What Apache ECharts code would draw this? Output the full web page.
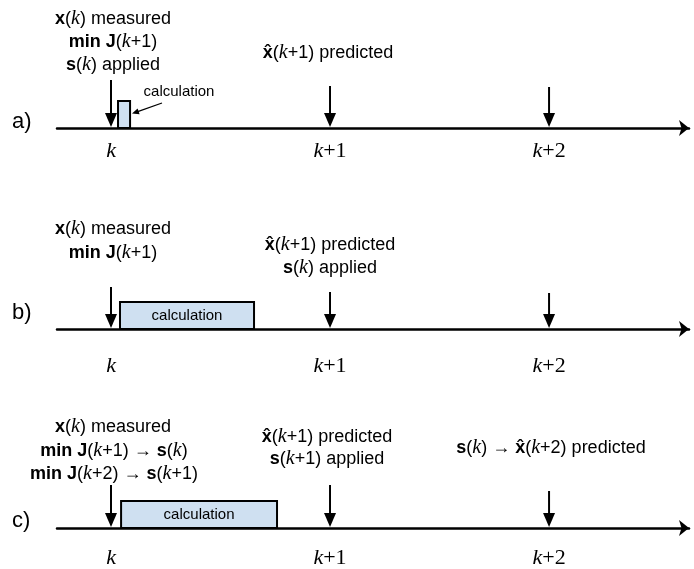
<!DOCTYPE html>
<html>
<head>
<meta charset="utf-8">
<script src="https://cdn.jsdelivr.net/npm/echarts@6/dist/echarts.min.js"></script>
<style>
html,body{margin:0;padding:0;background:#fff;}
#chart{width:694px;height:569px;}
</style>
</head>
<body>
<div id="chart"></div>
<script>
// ---- data ----
const tickValues = [0, 1, 2];
const tickLabels = ['k', 'k+1', 'k+2'];
const panelNames = ['a)', 'b)', 'c)'];
// arrow lengths (above the time axis) at k, k+1, k+2 for each panel
const arrowLenA = [48, 42, 41];
const arrowLenB = [42, 37, 36];
const arrowLenC = [43, 43, 37];
// calculation interval [start, end, height]
const calcA = [0.032, 0.087, 27];
const calcB = [0.041, 0.653, 27];
const calcC = [0.046, 0.758, 27];

const arrowLens = [arrowLenA, arrowLenB, arrowLenC];
const calcs = [calcA, calcB, calcC];

// ---- layout ----
const axisY = [128, 329, 528];
const gridH = 128;
const H = 569;
const xMin = -0.2466, xMax = 2.639;
const labelMargin = [12, 26, 19];

const SANS = '"Liberation Sans", Arial, sans-serif';
const SERIF = '"Liberation Serif", "Times New Roman", serif';
const richText = {
  n: { font: '18px ' + SANS, fill: '#000' },
  b: { font: 'bold 18px ' + SANS, fill: '#000' },
  i: { font: 'italic 20px ' + SERIF, fill: '#000' }
};
function T(parts) { return parts.map(p => '{' + p[0] + '|' + p[1] + '}').join(''); }
const X = ['b', 'x'], XH = ['b', 'x\u0302'], S = ['b', 's'], K = ['i', 'k'];
const MEAS = T([X, ['n', '('], K, ['n', ') measured']]);
const MINJ1 = T([['b', 'min J'], ['n', '('], K, ['n', '+1)']]);
const PRED1 = T([XH, ['n', '('], K, ['n', '+1) predicted']]);
const SAPP = T([S, ['n', '('], K, ['n', ') applied']]);

const annotations = [
  // panel a
  [113, 19, MEAS], [113, 42, MINJ1], [113, 65, SAPP], [328, 53, PRED1],
  // panel b
  [113, 229, MEAS], [113, 253, MINJ1], [330, 245, PRED1], [330, 268, SAPP],
  // panel c
  [113, 427, MEAS],
  [114, 451, T([['b', 'min J'], ['n', '('], K, ['n', '+1) \u2192 '], S, ['n', '('], K, ['n', ')']])],
  [114, 474, T([['b', 'min J'], ['n', '('], K, ['n', '+2) \u2192 '], S, ['n', '('], K, ['n', '+1)']])],
  [327, 437, PRED1],
  [327, 459, T([S, ['n', '('], K, ['n', '+1) applied']])],
  [551, 448, T([S, ['n', '('], K, ['n', ') \u2192 '], XH, ['n', '('], K, ['n', '+2) predicted']])]
];
const panelLabelY = [122, 313, 521];

const grids = [], xAxes = [], yAxes = [], series = [];
for (let p = 0; p < 3; p++) {
  grids.push({ left: 57, right: 5, top: axisY[p] - gridH, bottom: H - axisY[p], containLabel: false });
  xAxes.push({
    type: 'value', gridIndex: p, min: xMin, max: xMax,
    axisLine: { show: true, lineStyle: { color: '#000', width: 2.5 }, symbol: ['none', 'arrow'], symbolSize: [12, 10] },
    axisTick: { show: false },
    splitLine: { show: false },
    axisLabel: {
      show: true, customValues: tickValues, margin: labelMargin[p],
      formatter: function (v) {
        const idx = tickValues.indexOf(Math.round(v));
        const s = tickLabels[idx] || '';
        return '{i|k}' + (s.length > 1 ? '{r|' + s.slice(1) + '}' : '');
      },
      rich: {
        i: { fontFamily: SERIF, fontStyle: 'italic', fontSize: 22, color: '#000' },
        r: { fontFamily: SERIF, fontSize: 22, color: '#000' }
      }
    }
  });
  yAxes.push({ type: 'value', gridIndex: p, min: 0, max: gridH, show: false });

  series.push({
    type: 'custom', xAxisIndex: p, yAxisIndex: p, clip: false, z: 3,
    data: tickValues.map((v, i) => [v, arrowLens[p][i]]),
    renderItem: function (params, api) {
      const base = api.coord([api.value(0), 0]);
      const top = api.coord([api.value(0), api.value(1)]);
      const hl = 15, hw = 6;
      return {
        type: 'group', children: [
          { type: 'line', shape: { x1: base[0], y1: top[1], x2: base[0], y2: base[1] - hl + 2 }, style: { stroke: '#000', lineWidth: 2 } },
          { type: 'polygon', shape: { points: [[base[0] - hw, base[1] - hl], [base[0] + hw, base[1] - hl], [base[0], base[1] - 1]] }, style: { fill: '#000' } }
        ]
      };
    }
  });
  series.push({
    type: 'custom', xAxisIndex: p, yAxisIndex: p, clip: false, z: 2,
    data: [calcs[p]],
    renderItem: function (params, api) {
      const p0 = api.coord([api.value(0), 0]);
      const p1 = api.coord([api.value(1), api.value(2)]);
      const el = {
        type: 'rect',
        shape: { x: p0[0], y: p1[1], width: p1[0] - p0[0], height: p0[1] - p1[1] },
        style: { fill: '#cfe0f1', stroke: '#000', lineWidth: 2 }
      };
      if (p > 0) {
        el.textContent = { style: { text: 'calculation', font: '15px ' + SANS, fill: '#000' } };
        el.textConfig = { position: 'inside' };
      }
      return el;
    }
  });
}

const graphic = [];
annotations.forEach(a => {
  graphic.push({ type: 'text', x: a[0], y: a[1], style: { text: a[2], rich: richText, font: '18px ' + SANS, fill: '#000', align: 'center', verticalAlign: 'middle', textAlign: 'center', textVerticalAlign: 'middle' } });
});
panelNames.forEach((n, i) => {
  graphic.push({ type: 'text', x: 12, y: panelLabelY[i], style: { text: n, font: '22px ' + SANS, fill: '#000', align: 'left', verticalAlign: 'middle', textAlign: 'left', textVerticalAlign: 'middle' } });
});
// small 'calculation' callout for panel a
graphic.push({ type: 'text', x: 179, y: 92, style: { text: 'calculation', font: '15px ' + SANS, fill: '#000', align: 'center', verticalAlign: 'middle', textAlign: 'center', textVerticalAlign: 'middle' } });
graphic.push({ type: 'line', shape: { x1: 162, y1: 103, x2: 137, y2: 111.8 }, style: { stroke: '#000', lineWidth: 1.3 } });
graphic.push({ type: 'polygon', shape: { points: [[132, 113.5], [139.6, 114.2], [137.6, 108.4]] }, style: { fill: '#000' } });

const chart = echarts.init(document.getElementById('chart'), null, { renderer: 'canvas' });
chart.setOption({
  animation: false,
  backgroundColor: '#fff',
  grid: grids, xAxis: xAxes, yAxis: yAxes, series: series, graphic: graphic
});
</script>
</body>
</html>
